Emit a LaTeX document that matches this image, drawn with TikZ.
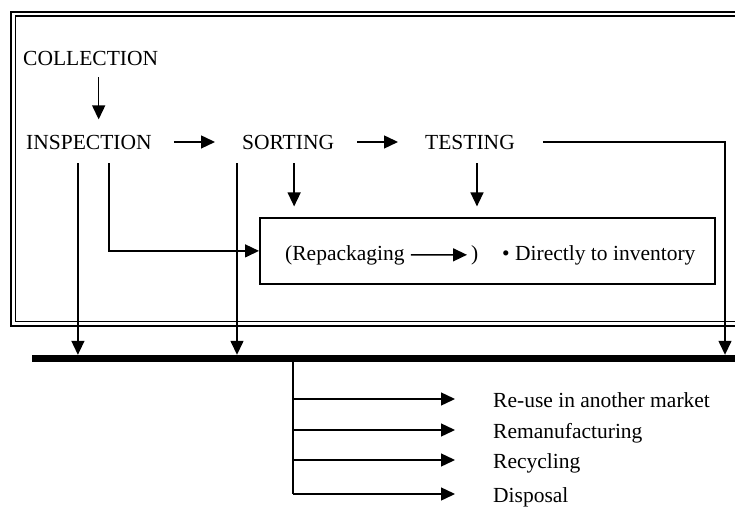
\documentclass[tikz,border=0pt]{standalone}
\usepackage{fontspec}
\setmainfont{Liberation Serif}
\usetikzlibrary{arrows.meta}

\begin{document}
\begin{tikzpicture}[x=1pt, y=-1pt,
    every node/.style={font=\fontsize{21.5}{24}\selectfont, inner sep=0pt},
    txt/.style={anchor=base west},
    outcome/.style={anchor=west, text height=16pt, text depth=0pt},
    ln/.style={line width=1.4pt},
    arr/.style={ln, -{Triangle[length=14pt,width=13pt]}}]
    \clip (0,0) rectangle (735,508);
    \draw[line width=2.4pt] (11,12) rectangle (760,326);
    \draw[line width=1.2pt] (15.5,16) rectangle (760,321.5);
    \node[txt] (coll) at (23,66) {COLLECTION};
    \node[txt] (insp) at (26,149) {INSPECTION};
    \node[txt] (sort) at (242,149) {SORTING};
    \node[txt] (test) at (425,149) {TESTING};
    \node[draw, line width=1.8pt, minimum width=455pt, minimum height=66pt, anchor=north west] (box) at (259,217) {};
    \node[txt] (repack) at (285,260) {(Repackaging};
    \node[txt] (paren) at (471,260) {)};
    \node[txt] (inv) at (502,260) {\textbullet\ Directly to inventory};
    \node[fill, minimum width=712pt, minimum height=7pt, anchor=west] (bar) at (32,358.5) {};
    \node[outcome] (reuse) at (493,399) {Re-use in another market};
    \node[outcome] (reman) at (493,430) {Remanufacturing};
    \node[outcome] (recyc) at (493,460) {Recycling};
    \node[outcome] (disp) at (493,494) {Disposal};
    \coordinate (drop) at (725,0);
    \coordinate (trunk) at (293,0);
    \draw[arr] ([xshift=8pt,yshift=-11pt]coll.south) -- ++(0,42);
    \draw[arr] ([xshift=22pt]insp.east) -- ([xshift=-27pt]sort.west);
    \draw[arr] ([xshift=23pt]sort.east) -- ([xshift=-27pt]test.west);
    \draw[arr] ([xshift=28pt]test.east) -| (drop |- bar.north);
    \draw[arr] ([xshift=-11pt,yshift=-14pt]insp.south) coordinate (i1) -- (i1 |- bar.north);
    \draw[arr] ([xshift=20pt,yshift=-14pt]insp.south) |- (box.west);
    \draw[arr] ([xshift=-5pt,yshift=-14pt]sort.south west) coordinate (s1) -- (s1 |- bar.north);
    \draw[arr] ([xshift=6pt,yshift=-14pt]sort.south) -- ++(0,43);
    \draw[arr] ([xshift=7pt,yshift=-14pt]test.south) -- ++(0,43);
    \draw[arr] ([xshift=6pt]repack.east) -- ([xshift=-4pt]paren.west);
    \draw[ln] (trunk |- bar.south) -- (trunk |- disp.west);
    \foreach \n in {reuse,reman,recyc,disp}
        \draw[arr] (trunk |- \n.west) -- ([xshift=-38pt]\n.west);
\end{tikzpicture}
\end{document}
